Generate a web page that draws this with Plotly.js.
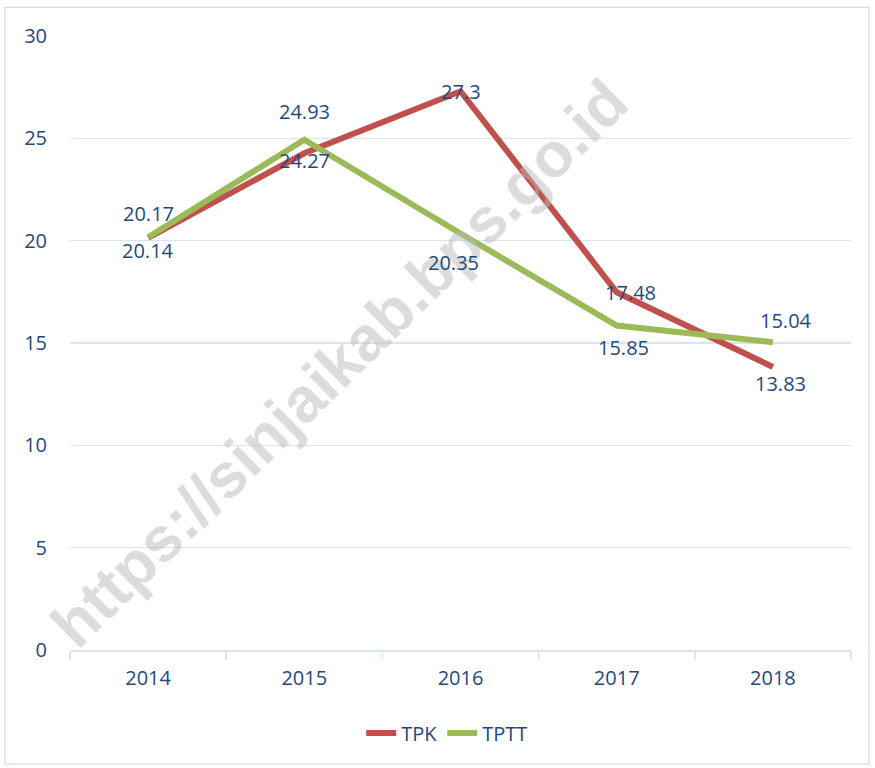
<!DOCTYPE html>
<html>
<head>
<meta charset="utf-8">
<script src="https://cdn.plot.ly/plotly-3.0.1.min.js"></script>
<style>html,body{margin:0;padding:0;background:#fff;}#chart{width:875px;height:768px;}</style>
</head>
<body>
<div id="chart"></div>
<script>
const years = ['2014', '2015', '2016', '2017', '2018'];
const tpk = [20.14, 24.27, 27.3, 17.48, 13.83];
const tptt = [20.17, 24.93, 20.35, 15.85, 15.04];
const watermark = 'https://sinjaikab.bps.go.id';

// label offsets (pixels) relative to each point
const tpkShiftY = [-13, -7, 0, 0, -17];
const tpkShiftX = [0, 0, 0, 14, 8];
const tpttShiftY = [24, 28, -29, -22, 22];
const tpttShiftX = [0, 0, -7, 7, 13];

const FAMILY = 'Open Sans, Noto Sans, sans-serif';
const labelFont = {family: FAMILY, size: 20, color: '#1F497D'};

const traces = [
  {x: years, y: tpk, name: 'TPK', type: 'scatter', mode: 'lines',
   line: {color: '#C0504D', width: 6}, hoverinfo: 'none'},
  {x: years, y: tptt, name: 'TPTT', type: 'scatter', mode: 'lines',
   line: {color: '#9BBB59', width: 6}, hoverinfo: 'none'}
];

const annotations = [
  {text: '<b>' + watermark + '</b>', xref: 'paper', yref: 'paper', x: 0.345, y: 0.467,
   xanchor: 'center', yanchor: 'middle', showarrow: false, textangle: -44.5,
   font: {family: 'Liberation Sans, Arial, sans-serif', size: 63, color: 'rgba(185,185,185,0.5)'}}
];
years.forEach((yr, i) => {
  // category axes take the category's index as the annotation position
  annotations.push({x: i, y: tpk[i], xref: 'x', yref: 'y', text: String(tpk[i]), showarrow: false,
    xanchor: 'center', yanchor: 'middle', xshift: tpkShiftX[i], yshift: tpkShiftY[i], font: labelFont});
  annotations.push({x: i, y: tptt[i], xref: 'x', yref: 'y', text: String(tptt[i]), showarrow: false,
    xanchor: 'center', yanchor: 'middle', xshift: tpttShiftX[i], yshift: tpttShiftY[i], font: labelFont});
});

const layout = {
  width: 875, height: 768,
  margin: {l: 70, r: 24, t: 36, b: 118},
  paper_bgcolor: '#FFFFFF', plot_bgcolor: '#FFFFFF',
  font: {family: FAMILY, size: 20, color: '#1F497D'},
  showlegend: true,
  legend: {
    orientation: 'h', x: 0.483, xanchor: 'center', y: -0.135, yanchor: 'middle',
    font: {family: FAMILY, size: 20, color: '#1F497D'}
  },
  xaxis: {
    type: 'category', range: [-0.5, 4.5],
    showgrid: false, zeroline: false,
    showline: true, linecolor: '#D9E4F1', linewidth: 1.5,
    ticks: 'outside', tickson: 'boundaries', ticklen: 8, tickcolor: '#D9E4F1', tickwidth: 1.5,
    ticklabelstandoff: 9,
    tickfont: {family: FAMILY, size: 20, color: '#1F497D'},
    fixedrange: true
  },
  yaxis: {
    range: [0, 30], dtick: 5, tick0: 0,
    showgrid: true, gridcolor: '#D9E4F1', gridwidth: 1.5,
    zeroline: false, showline: false, ticks: '',
    ticklabelstandoff: 22,
    tickfont: {family: FAMILY, size: 20, color: '#1F497D'},
    fixedrange: true
  },
  shapes: [
    {type: 'rect', xref: 'paper', yref: 'paper', x0: -0.0832, x1: 1.023, y0: -0.1857, y1: 1.047,
     line: {color: '#D9E4F1', width: 1.5}, fillcolor: 'rgba(0,0,0,0)', layer: 'below'}
  ],
  annotations: annotations
};

Plotly.newPlot('chart', traces, layout, {displayModeBar: false, staticPlot: true});
</script>
</body>
</html>
